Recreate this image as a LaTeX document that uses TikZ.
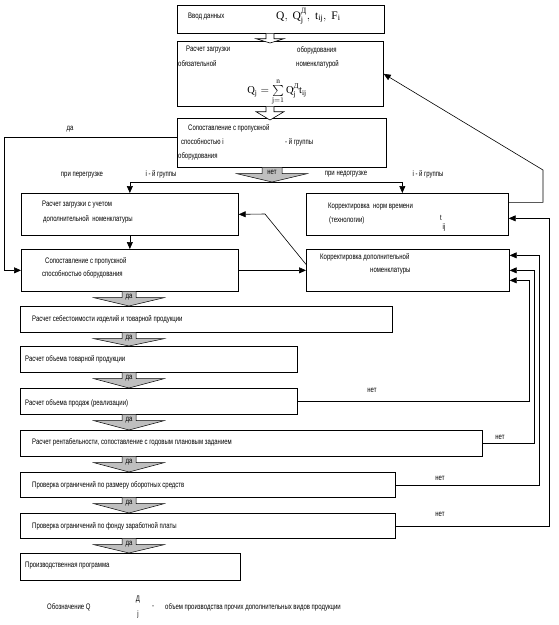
\documentclass[tikz,border=0pt]{standalone}
\usepackage{amsmath}
\usepackage{fontspec}
\setmainfont{Liberation Serif}
\newfontfamily\lblfont[FakeStretch=0.75]{Liberation Sans}
\usetikzlibrary{arrows.meta,calc}

% grey block arrow: top point, tip point, half width of stem, label, name of label
\newcommand{\blockarrow}[5]{%
	\path (#1) coordinate (bt) (#2) coordinate (bb);
	\draw[greyarr] ($(bt)+(-#3,0)$) -- ($(bt)+(-#3,6)$) -- ($(bt)+(-35,6)$) -- (bb)
		-- ($(bt)+(35,6)$) -- ($(bt)+(#3,6)$) -- ($(bt)+(#3,0)$);
	\node[lbl, anchor=center] (#5) at ($(bt)+(0,5)$) {#4};}

% white block arrow between two boxes
\newcommand{\hollowarrow}[2]{%
	\path (hx |- #1.south) coordinate (ht) (hx |- #2.north) coordinate (hb);
	\draw[hollow] ($(ht)+(-4,0)$) -- ($(ht)+(-4,5)$) -- ($(ht)+(-14,5)$) -- ($(hb)+(0,2)$)
		-- ($(ht)+(14,5)$) -- ($(ht)+(4,5)$) -- ($(ht)+(4,0)$);}

\begin{document}
\begin{tikzpicture}[x=1pt,y=-1pt,
	blk/.style={draw, line width=0.7pt, inner sep=0pt, anchor=north west},
	lbl/.style={font=\lblfont\fontsize{8}{9.5}\selectfont, inner sep=0pt, anchor=west},
	frm/.style={font=\fontsize{11.5}{13}\selectfont, inner sep=0pt},
	arr/.style={-{Triangle[length=7pt,width=6pt]}, line width=0.6pt},
	hollow/.style={draw, fill=white, line width=0.6pt},
	greyarr/.style={draw, fill=gray!50, line width=0.5pt},
	]
	\useasboundingbox (0,0) rectangle (558,625);
	
	%Boxes
	\node[blk, minimum width=207pt, minimum height=28pt] (inbox)      at (177,5)   {};
	\node[blk, minimum width=206pt, minimum height=65pt] (loadbox)    at (177,41)  {};
	\node[blk, minimum width=209pt, minimum height=49pt] (cmpbox)     at (177,118) {};
	\node[blk, minimum width=217pt, minimum height=42pt] (loadaddbox) at (21,193)  {};
	\node[blk, minimum width=202pt, minimum height=42pt] (normbox)    at (306,193) {};
	\node[blk, minimum width=217pt, minimum height=42pt] (cmpaddbox)  at (21,249)  {};
	\node[blk, minimum width=203pt, minimum height=42pt] (adjaddbox)  at (306,249) {};
	\node[blk, minimum width=372pt, minimum height=26pt] (costbox)    at (20,306)  {};
	\node[blk, minimum width=277pt, minimum height=26pt] (goodsbox)   at (20,346)  {};
	\node[blk, minimum width=277pt, minimum height=26pt] (salesbox)   at (20,388)  {};
	\node[blk, minimum width=462pt, minimum height=26pt] (profitbox)  at (20,430)  {};
	\node[blk, minimum width=375pt, minimum height=25pt] (capbox)     at (20,472)  {};
	\node[blk, minimum width=375pt, minimum height=25pt] (wagebox)    at (20,513)  {};
	\node[blk, minimum width=220pt, minimum height=27pt] (progbox)    at (20,553)  {};
	
	%Texts
	\node[lbl] (intxt)  at (188,17) {Ввод данных};
	\node[frm, anchor=west] (infrm) at (276,16)
		{$\mathrm{Q},\ \mathrm{Q}_{\mathrm{j}}^{\text{Д}},\ \mathrm{t}_{\mathrm{ij}},\ \mathrm{F}_{\mathrm{i}}$};
	\node[lbl] (loadtxta) at (186,50) {Расчет загрузки};
	\node[lbl] (loadtxtb) at (297,50) {оборудования};
	\node[lbl] (loadtxtc) at (178,64) {обязательной};
	\node[lbl] (loadtxtd) at (296,64) {номенклатурой};
	\node[frm, font=\fontsize{10.5}{12}\selectfont] (loadfrm) at (277,92)
		{$\mathrm{Q}_{\mathrm{j}}=\sum\limits_{\mathrm{j}=1}^{\mathrm{n}}\mathrm{Q}_{\mathrm{j}}^{\text{Д}}\mathrm{t}_{\mathrm{ij}}$};
	\node[lbl] (cmptxta) at (188,128) {Сопоставление с пропускной};
	\node[lbl] (cmptxtb) at (181,142) {способностью i};
	\node[lbl] (cmptxtc) at (285,142) {- й группы};
	\node[lbl] (cmptxtd) at (178,156) {оборудования};
	\node[lbl] (addtxta) at (42,205) {Расчет загрузки с учетом};
	\node[lbl] (addtxtb) at (43,219) {дополнительной \ номенклатуры};
	\node[lbl] (normtxta) at (328,207) {Корректировка \ норм времени};
	\node[lbl] (normtxtb) at (329,220) {(технологии)};
	\node[lbl, anchor=center] (normt)  at (441,218) {t};
	\node[lbl, anchor=center] (normij) at (444,227) {ij};
	\node[lbl] (cmpaddtxta) at (45,261) {Сопоставление с пропускной};
	\node[lbl] (cmpaddtxtb) at (42,274) {способностью оборудования};
	\node[lbl] (adjtxta) at (320,257) {Корректировка дополнительной};
	\node[lbl] (adjtxtb) at (370,271) {номенклатуры};
	\node[lbl] (costtxt)   at (32,319) {Расчет себестоимости изделий и товарной продукции};
	\node[lbl] (goodstxt)  at (25,359) {Расчет объема товарной продукции};
	\node[lbl] (salestxt)  at (25,403) {Расчет объема продаж (реализации)};
	\node[lbl] (profittxt) at (32,442) {Расчет рентабельности, сопоставление с годовым плановым заданием};
	\node[lbl] (captxt)    at (32,485) {Проверка ограничений по размеру оборотных средств};
	\node[lbl] (wagetxt)   at (32,526) {Проверка ограничений по фонду заработной платы};
	\node[lbl] (progtxt)   at (25,566) {Производственная программа};
	
	%Labels
	\node[lbl, anchor=center] (yeslbl)   at (70,129)  {да};
	\node[lbl, anchor=center] (overlbl)  at (82,175)  {при перегрузке};
	\node[lbl, anchor=center] (overgrp)  at (161,174) {i - й группы};
	\node[lbl, anchor=center] (underlbl) at (346,174) {при недогрузке};
	\node[lbl, anchor=center] (undergrp) at (428,174) {i - й группы};
	\node[lbl, anchor=center] (nosales)  at (372,390) {нет};
	\node[lbl, anchor=center] (noprofit) at (500,437) {нет};
	\node[lbl, anchor=center] (nocap)    at (440,478) {нет};
	\node[lbl, anchor=center] (nowage)   at (440,514) {нет};
	
	%Note
	\node[lbl] (notea) at (47,607) {Обозначение Q};
	\node[lbl, anchor=center] (noteb) at (138,600) {Д};
	\node[lbl, anchor=center] (notec) at (138,614) {j};
	\node[lbl, anchor=center] (noted) at (153,607) {-};
	\node[lbl] (notee) at (165,607) {объем производства прочих дополнительных видов продукции};
	
	%Block arrows
	\coordinate (hx) at (270,0);
	\coordinate (ax) at (129,0);
	\coordinate (split) at (272,182);
	\hollowarrow{inbox}{loadbox}
	\hollowarrow{loadbox}{cmpbox}
	\blockarrow{split |- cmpbox.south}{split}{10}{нет}{nolbl}
	\blockarrow{ax |- cmpaddbox.south}{ax |- costbox.north}{7}{да}{yesa}
	\blockarrow{ax |- costbox.south}{ax |- goodsbox.north}{7}{да}{yesb}
	\blockarrow{ax |- goodsbox.south}{ax |- salesbox.north}{7}{да}{yesc}
	\blockarrow{ax |- salesbox.south}{ax |- profitbox.north}{7}{да}{yesd}
	\blockarrow{ax |- profitbox.south}{ax |- capbox.north}{7}{да}{yese}
	\blockarrow{ax |- capbox.south}{ax |- wagebox.north}{7}{да}{yesf}
	\blockarrow{ax |- wagebox.south}{ax |- progbox.north}{7}{да}{yesg}
	
	%Lines
	\coordinate (yesleft) at (4,0);
	\coordinate (bend) at (265,214);
	\coordinate (up) at (543,170);
	\draw[arr] (split) -| (loadaddbox.north);
	\draw[arr] (split) -| ([xshift=-5pt]normbox.north);
	\draw[arr] (loadaddbox.south) -- (cmpaddbox.north);
	\draw[arr] ([yshift=5.5pt]cmpbox.west) -| (yesleft |- cmpaddbox.west) -- (cmpaddbox.west);
	\draw[arr] (cmpaddbox.east) -- (adjaddbox.west);
	\draw[arr] ([yshift=6pt]adjaddbox.west) -- (bend) -- (loadaddbox.east);
	\draw[arr] ([yshift=12pt]normbox.east) -| (up) -- (loadbox.east);
	\draw[arr] (wagebox.east) -- ++(154,0) |- ([yshift=-4pt]normbox.east);
	\draw[arr] (capbox.east) -- ++(144,0) |- ([yshift=15pt]adjaddbox.east);
	\draw[arr] (profitbox.east) -- ++(52,0) |- (adjaddbox.east);
	\draw[arr] (salesbox.east) -- ++(232,0) |- ([yshift=-10pt]adjaddbox.east);
\end{tikzpicture}
\end{document}
